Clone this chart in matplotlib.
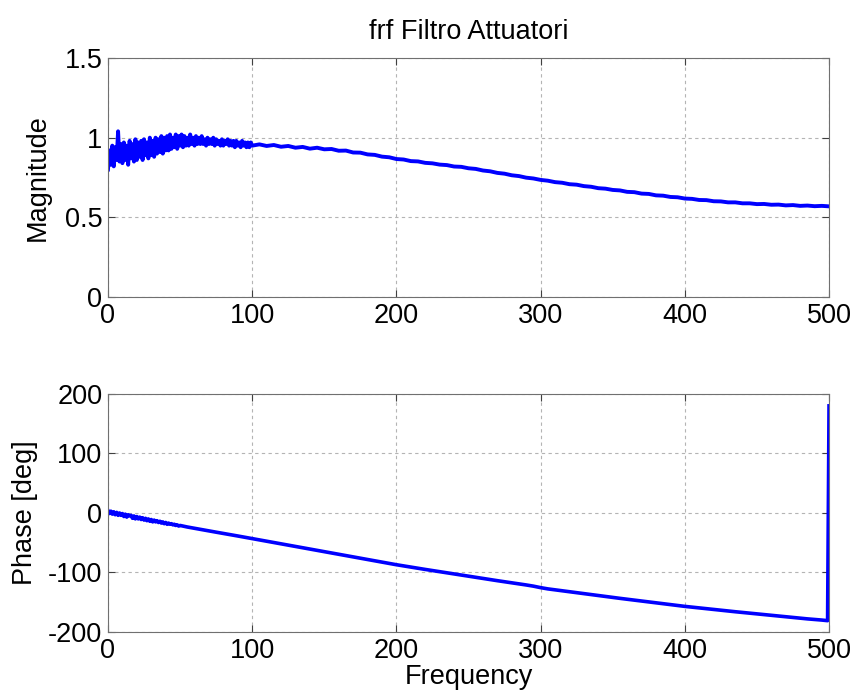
import matplotlib.pyplot as plt

plt.rcParams['font.family'] = ['Liberation Sans', 'DejaVu Sans']
plt.rcParams['axes.unicode_minus'] = False

# magnitudine, 0..100 Hz passo 1 Hz (parte rumorosa)
freq_low = list(range(0, 101))
mag_low = [0.80, 0.92, 0.83, 0.95, 0.82, 0.94, 0.86, 1.04, 0.85, 0.96,
           0.84, 0.97, 0.86, 0.95, 0.83, 0.98, 0.87, 0.96, 0.85, 0.99,
           0.86, 0.97, 0.88, 0.98, 0.86, 0.99, 0.89, 0.97, 0.87, 1.00,
           0.89, 0.98, 0.88, 1.00, 0.90, 0.99, 0.91, 1.01, 0.90, 1.00,
           0.92, 1.01, 0.92, 1.02, 0.93, 1.00, 0.94, 1.02, 0.93, 1.01,
           0.95, 1.02, 0.94, 1.01, 0.95, 1.00, 0.95, 1.02, 0.96, 1.00,
           0.95, 1.01, 0.96, 1.00, 0.96, 1.01, 0.96, 0.99, 0.95, 1.00,
           0.96, 0.99, 0.96, 1.00, 0.95, 0.99, 0.96, 0.98, 0.95, 0.99,
           0.95, 0.98, 0.96, 0.99, 0.95, 0.98, 0.95, 0.98, 0.94, 0.98,
           0.95, 0.97, 0.94, 0.98, 0.95, 0.97, 0.94, 0.97, 0.94, 0.97,
           0.95]

# magnitudine, 105..500 Hz passo 5 Hz
freq_high = list(range(105, 501, 5))
mag_high = [0.958, 0.948, 0.954, 0.943, 0.948, 0.937, 0.942, 0.931, 0.937, 0.927,
            0.929, 0.918, 0.919, 0.907, 0.906, 0.895, 0.892, 0.881, 0.877, 0.866,
            0.863, 0.853, 0.851, 0.842, 0.839, 0.831, 0.828, 0.819, 0.817, 0.808,
            0.804, 0.794, 0.789, 0.779, 0.774, 0.764, 0.759, 0.749, 0.744, 0.735,
            0.730, 0.721, 0.717, 0.708, 0.705, 0.696, 0.692, 0.683, 0.680, 0.672,
            0.669, 0.660, 0.658, 0.649, 0.647, 0.638, 0.636, 0.628, 0.626, 0.618,
            0.616, 0.609, 0.608, 0.601, 0.600, 0.594, 0.594, 0.588, 0.588, 0.583,
            0.584, 0.579, 0.580, 0.575, 0.577, 0.572, 0.574, 0.570, 0.572, 0.569]

# fase, 0..50 Hz passo 1 Hz
ph_freq_low = list(range(0, 51))
ph_low = [4, -1, 3, -2, 2, -3, 1, -4, 0, -4,
          -1, -6, -2, -7, -3, -5, -4, -9, -5, -10,
          -6, -10, -7, -11, -8, -12, -9, -13, -10, -14,
          -11, -15, -12, -15, -13, -16, -14, -17, -15, -18,
          -16, -19, -17, -19, -18, -20, -19, -21, -20, -22,
          -21]

# fase, 55..495 Hz passo 5 Hz, poi salto a Nyquist
ph_freq_high = list(range(55, 496, 5)) + [499, 500]
ph_high = [-23.6, -25.8, -28.0, -30.1, -32.3, -34.4, -36.6, -38.7, -40.9, -43.0,
           -45.2, -47.4, -49.6, -51.8, -54.0, -56.2, -58.4, -60.6, -62.8, -65.0,
           -67.2, -69.4, -71.6, -73.8, -76.0, -78.2, -80.4, -82.6, -84.8, -87.0,
           -89.0, -91.0, -93.0, -94.9, -96.8, -98.7, -100.6, -102.5, -104.4, -106.3,
           -108.2, -110.1, -112.0, -113.8, -115.6, -117.4, -119.2, -121.0, -123.0, -125.5,
           -127.6, -129.2, -130.8, -132.4, -134.0, -135.6, -137.2, -138.8, -140.4, -142.0,
           -143.5, -145.0, -146.5, -148.0, -149.5, -151.0, -152.5, -154.0, -155.5, -157.0,
           -158.3, -159.6, -160.9, -162.2, -163.5, -164.8, -166.0, -167.2, -168.4, -169.6,
           -170.8, -172.0, -173.2, -174.4, -175.6, -176.8, -178.0, -179.0, -180.0,
           -181.0, 180.0]

freq = freq_low + freq_high
mag = mag_low + mag_high
ph_freq = ph_freq_low + ph_freq_high
phase = ph_low + ph_high

fig = plt.figure(figsize=(8.53, 6.99), dpi=100)
ax1 = fig.add_axes([0.1266, 0.5751, 0.8453, 0.3419])
ax2 = fig.add_axes([0.1266, 0.0959, 0.8453, 0.3405])

ax1.plot(freq, mag, color='#0000ff', lw=2.8)
ax2.plot(ph_freq, phase, color='#0000ff', lw=2.6)

ax1.set_xlim(0, 500)
ax1.set_ylim(0, 1.5)
ax1.set_yticks([0, 0.5, 1, 1.5])
ax1.set_yticklabels(['0', '0.5', '1', '1.5'])
ax2.set_xlim(0, 500)
ax2.set_ylim(-200, 200)
ax2.set_yticks([-200, -100, 0, 100, 200])

for ax in (ax1, ax2):
    ax.set_xticks([0, 100, 200, 300, 400, 500])
    ax.grid(True, color='#b4b4b4', linestyle=(0, (3, 3)), linewidth=0.8)
    ax.tick_params(direction='in', length=5, width=0.8, colors='#404040',
                   labelcolor='black', labelsize=19.5, pad=4,
                   top=True, right=True)
    for s in ax.spines.values():
        s.set_color('#707070')
        s.set_linewidth(0.8)

ax1.set_title('frf Filtro Attuatori', fontsize=19.5, pad=14)
ax1.set_ylabel('Magnitude', fontsize=19.5, labelpad=10)
ax2.set_ylabel('Phase [deg]', fontsize=19.5, labelpad=7)
ax2.set_xlabel('Frequency', fontsize=19.5, labelpad=0)

fig.savefig('out.png', dpi=100)
